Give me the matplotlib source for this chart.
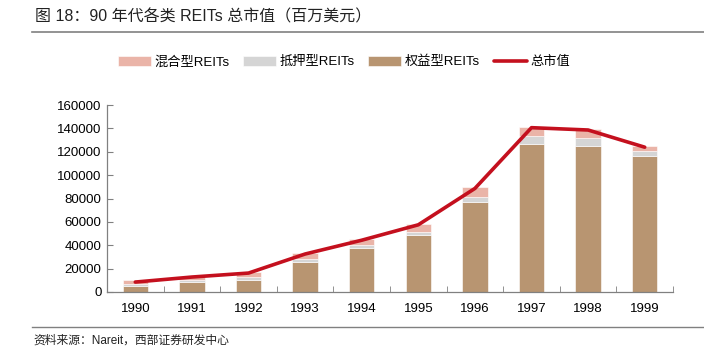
import matplotlib
matplotlib.use("Agg")
import matplotlib.pyplot as plt
import numpy as np

plt.rcParams['font.family'] = ['Liberation Sans', 'Noto Sans CJK SC', 'DejaVu Sans']

years = ['1990', '1991', '1992', '1993', '1994', '1995', '1996', '1997', '1998', '1999']
equity = [4800, 8200, 10500, 25300, 37800, 48900, 76900, 126400, 125200, 116700]
mortgage = [2000, 1700, 2300, 2900, 2300, 2600, 4500, 7400, 6300, 4000]
hybrid = [3100, 2600, 4300, 5100, 5200, 7100, 8300, 7700, 7700, 4500]
total = [8500, 12800, 16200, 32500, 44300, 57500, 88600, 140600, 138600, 123900]
yticks = [0, 20000, 40000, 60000, 80000, 100000, 120000, 140000, 160000]

c_hyb = '#EAB4A8'
c_mort = '#D5D5D5'
c_eq = '#B89571'
c_line = '#C4101E'

fig = plt.figure(figsize=(7.04, 3.54), dpi=100)
W, H = 704, 354
ax = fig.add_axes([107 / W, (H - 292) / H, (673 - 107) / W, (292 - 105) / H])

x = np.arange(len(years))
bw = 0.45
ax.bar(x, equity, bw, color=c_eq, edgecolor='white', linewidth=0.4, label='权益型REITs', zorder=2)
ax.bar(x, mortgage, bw, bottom=equity, color=c_mort, edgecolor='white', linewidth=0.4, label='抵押型REITs', zorder=2)
bot2 = [a + b for a, b in zip(equity, mortgage)]
ax.bar(x, hybrid, bw, bottom=bot2, color=c_hyb, edgecolor='white', linewidth=0.4, label='混合型REITs', zorder=2)
ax.plot(x, total, color=c_line, linewidth=2.6, label='总市值', zorder=3, solid_capstyle='round')

ax.set_xlim(-0.5, len(years) - 0.5)
ax.set_ylim(0, 160000)
ax.set_yticks(yticks)
ax.set_yticklabels([str(v) for v in yticks], fontsize=9.5)
ax.set_xticks(x)
ax.set_xticklabels(years, fontsize=9.5)
ax.set_xticks(np.arange(-0.5, len(years), 1.0), minor=True)
ax.tick_params(axis='x', which='major', length=0, pad=8)
ax.tick_params(axis='x', which='minor', direction='in', length=4, color='#808080')
ax.tick_params(axis='y', direction='in', length=4, color='#808080', pad=4)
for s in ['top', 'right']:
    ax.spines[s].set_visible(False)
for s in ['left', 'bottom']:
    ax.spines[s].set_color('#808080')
    ax.spines[s].set_linewidth(0.9)

handles_all, labels_all = ax.get_legend_handles_labels()
mp = dict(zip(labels_all, handles_all))
lab = ['混合型REITs', '抵押型REITs', '权益型REITs', '总市值']
leg = fig.legend([mp[k] for k in lab], lab, loc='center', bbox_to_anchor=(344 / W, 1 - 62 / H),
                 ncol=4, frameon=False, fontsize=9.5, handlelength=2.5, handleheight=0.8,
                 columnspacing=1.0, handletextpad=0.3)

fig.text(35 / W, 1 - 17 / H, '图 18：90 年代各类 REITs 总市值（百万美元）', fontsize=11.5,
         va='center', ha='left', color='#222222')
fig.add_artist(plt.Line2D([32 / W, 1.0], [1 - 32 / H, 1 - 32 / H], color='#808080', linewidth=1.2))
fig.add_artist(plt.Line2D([32 / W, 1.0], [1 - 327 / H, 1 - 327 / H], color='#808080', linewidth=1.0))
fig.text(33 / W, 1 - 341 / H, '资料来源：Nareit，西部证券研发中心', fontsize=8.5,
         va='center', ha='left', color='#222222')

fig.savefig('out.png', dpi=100)
